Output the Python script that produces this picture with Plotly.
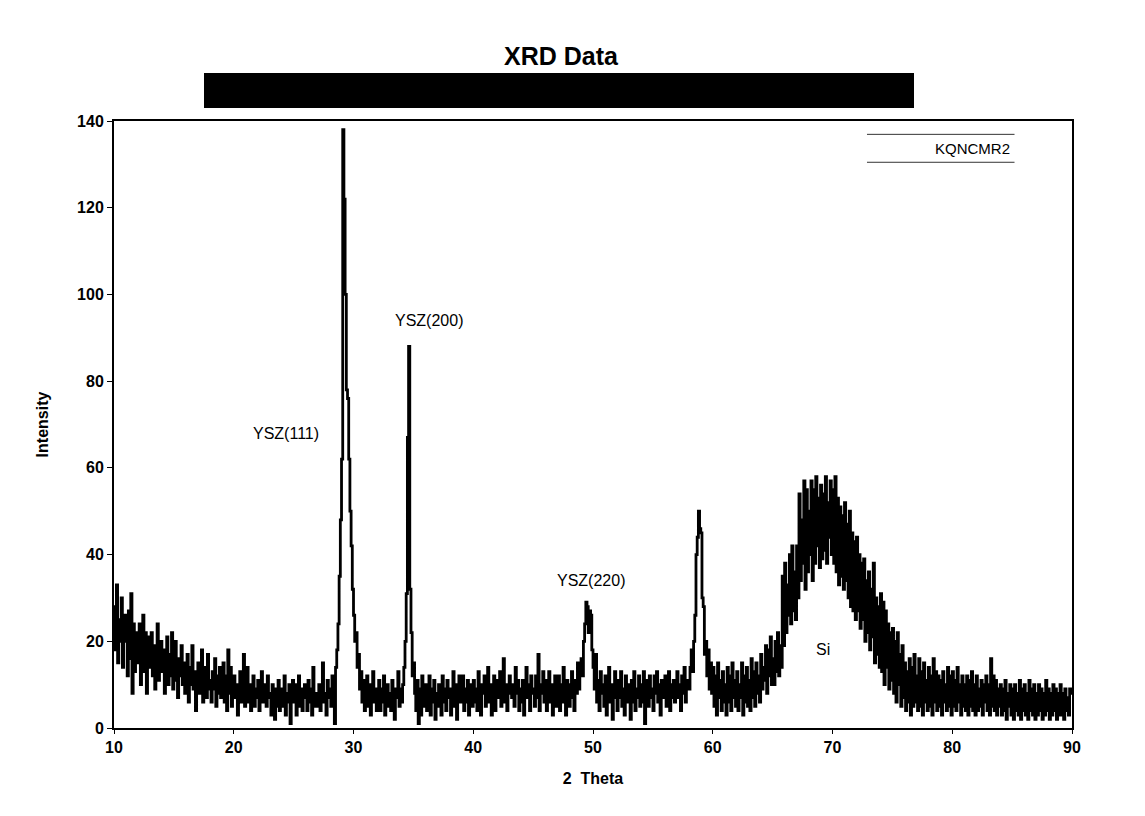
import numpy as np
import plotly.graph_objects as go

# 2-theta start / step of the scan (values every 0.1 deg)
theta_start = 10.0
theta_step = 0.1

intensity_rows = [
    [28, 18, 33, 15, 25, 20, 30, 14, 22, 26],   # 10
    [20, 12, 27, 16, 31, 8, 24, 13, 22, 19],    # 11
    [15, 24, 10, 20, 26, 13, 22, 8, 18, 21],    # 12
    [14, 22, 12, 19, 9, 17, 24, 11, 16, 20],    # 13
    [13, 18, 8, 15, 21, 10, 17, 12, 22, 9],     # 14
    [14, 20, 11, 7, 16, 12, 19, 10, 15, 8],     # 15
    [12, 17, 6, 14, 10, 19, 9, 13, 4, 11],      # 16
    [15, 8, 12, 18, 6, 10, 14, 7, 17, 9],       # 17
    [11, 6, 13, 9, 16, 5, 12, 8, 14, 7],        # 18
    [10, 15, 6, 12, 4, 18, 8, 14, 5, 9],        # 19
    [12, 7, 10, 3, 9, 13, 6, 11, 17, 5],        # 20
    [9, 14, 6, 10, 4, 8, 12, 5, 9, 7],          # 21
    [11, 4, 8, 13, 6, 10, 9, 5, 12, 7],         # 22
    [8, 3, 10, 6, 2, 9, 5, 11, 4, 7],           # 23
    [9, 5, 12, 3, 8, 6, 10, 1, 7, 11],          # 24
    [6, 10, 3, 8, 12, 5, 9, 4, 7, 10],          # 25
    [8, 4, 11, 6, 9, 3, 14, 5, 8, 7],           # 26
    [5, 10, 4, 9, 15, 6, 8, 3, 11, 7],          # 27
    [9, 5, 12, 6, 1, 14, 18, 24, 35, 48],       # 28
    [62, 138, 122, 100, 78, 76, 62, 50, 42, 32],  # 29
    [26, 20, 22, 14, 17, 9, 13, 6, 11, 4],      # 30
    [9, 12, 5, 10, 3, 8, 13, 6, 9, 4],          # 31
    [7, 11, 4, 9, 6, 12, 3, 8, 10, 5],          # 32
    [8, 4, 11, 6, 2, 9, 7, 13, 5, 9],           # 33
    [6, 10, 14, 20, 31, 67, 88, 32, 22, 12],    # 34
    [15, 8, 4, 11, 1, 9, 3, 12, 5, 8],          # 35
    [10, 4, 7, 12, 3, 9, 6, 11, 2, 8],          # 36
    [5, 10, 7, 3, 12, 6, 9, 4, 11, 7],          # 37
    [9, 3, 8, 13, 5, 10, 2, 7, 12, 6],          # 38
    [8, 12, 4, 9, 6, 11, 3, 10, 7, 5],          # 39
    [11, 6, 9, 4, 13, 7, 3, 10, 8, 12],         # 40
    [5, 9, 14, 6, 10, 3, 8, 12, 4, 9],          # 41
    [11, 7, 13, 5, 9, 16, 6, 10, 4, 8],         # 42
    [12, 9, 7, 10, 5, 14, 8, 11, 4, 9],         # 43
    [6, 11, 3, 9, 14, 7, 10, 4, 12, 8],         # 44
    [9, 5, 12, 7, 17, 4, 10, 8, 13, 6],         # 45
    [11, 4, 9, 13, 6, 10, 3, 8, 12, 5],         # 46
    [7, 12, 4, 10, 6, 14, 8, 3, 11, 9],         # 47
    [5, 10, 13, 7, 4, 11, 8, 15, 9, 12],        # 48
    [16, 12, 20, 24, 29, 28, 22, 27, 26, 18],   # 49
    [14, 9, 17, 6, 11, 4, 13, 8, 10, 5],        # 50
    [12, 3, 9, 14, 6, 10, 2, 8, 13, 7],         # 51
    [4, 11, 7, 13, 5, 9, 3, 12, 6, 10],         # 52
    [8, 2, 11, 6, 13, 4, 9, 7, 12, 5],          # 53
    [10, 6, 13, 1, 8, 11, 5, 12, 7, 9],         # 54
    [4, 12, 8, 13, 6, 10, 3, 11, 7, 9],         # 55
    [12, 5, 9, 13, 4, 10, 7, 11, 6, 8],         # 56
    [13, 7, 10, 4, 12, 8, 14, 6, 11, 9],        # 57
    [9, 14, 18, 13, 20, 26, 40, 44, 50, 46],    # 58
    [45, 30, 28, 17, 20, 12, 18, 9, 15, 8],     # 59
    [14, 5, 12, 3, 15, 7, 11, 4, 13, 6],        # 60
    [10, 3, 14, 6, 12, 4, 15, 7, 11, 5],        # 61
    [13, 4, 10, 7, 15, 3, 12, 6, 14, 5],        # 62
    [11, 4, 16, 7, 13, 5, 15, 8, 12, 6],        # 63
    [17, 9, 14, 11, 19, 8, 18, 12, 21, 10],     # 64
    [16, 10, 20, 13, 22, 12, 19, 14, 35, 19],   # 65
    [38, 22, 33, 26, 40, 24, 42, 27, 36, 25],   # 66
    [42, 30, 54, 34, 48, 38, 57, 32, 55, 36],   # 67
    [50, 40, 57, 34, 55, 38, 58, 42, 53, 37],   # 68
    [56, 39, 54, 41, 58, 38, 52, 44, 57, 40],   # 69
    [55, 38, 58, 36, 53, 33, 51, 35, 49, 32],   # 70
    [52, 34, 47, 30, 50, 28, 45, 27, 43, 25],   # 71
    [44, 27, 40, 23, 38, 25, 39, 20, 34, 22],   # 72
    [36, 18, 32, 21, 38, 15, 30, 17, 28, 14],   # 73
    [31, 13, 29, 10, 27, 14, 24, 9, 22, 11],    # 74
    [23, 8, 20, 6, 22, 10, 17, 5, 19, 7],       # 75
    [15, 4, 13, 6, 16, 3, 14, 5, 17, 6],        # 76
    [12, 4, 16, 5, 13, 3, 15, 6, 11, 4],        # 77
    [14, 5, 12, 3, 16, 6, 13, 4, 12, 5],        # 78
    [11, 3, 13, 6, 10, 4, 14, 5, 12, 3],        # 79
    [13, 5, 11, 4, 14, 6, 10, 3, 12, 5],        # 80
    [10, 4, 12, 3, 11, 5, 13, 4, 10, 3],        # 81
    [12, 4, 9, 5, 11, 3, 10, 6, 12, 4],         # 82
    [10, 3, 16, 5, 12, 4, 11, 3, 9, 5],         # 83
    [10, 3, 9, 4, 11, 2, 8, 5, 10, 3],          # 84
    [9, 2, 10, 4, 8, 3, 11, 2, 9, 4],           # 85
    [10, 3, 8, 2, 11, 4, 9, 3, 10, 2],          # 86
    [8, 3, 10, 4, 9, 2, 8, 3, 11, 4],           # 87
    [9, 2, 8, 3, 10, 4, 9, 2, 8, 3],            # 88
    [10, 3, 8, 2, 9, 4, 7, 3, 9, 8],            # 89
]
intensity_end = [8]  # 90.0

x_ticks = [10, 20, 30, 40, 50, 60, 70, 80, 90]
y_ticks = [0, 20, 40, 60, 80, 100, 120, 140]

peak_labels = ["YSZ(111)", "YSZ(200)", "YSZ(220)", "Si"]
peak_label_x = [24.4, 36.3, 49.8, 69.2]
peak_label_y = [68, 94, 34, 18]

series_name = "KQNCMR2"

intensity = [v for row in intensity_rows for v in row] + intensity_end
theta = theta_start + theta_step * np.arange(len(intensity))

FONT = "Liberation Sans, Arial, sans-serif"

fig = go.Figure()
fig.add_trace(go.Scatter(
    x=theta, y=intensity, mode="lines", name=series_name,
    line=dict(color="black", width=2.8, shape="hv"),
    showlegend=False,
))

for t, lx, ly in zip(peak_labels, peak_label_x, peak_label_y):
    fig.add_annotation(x=lx, y=ly, text=t, showarrow=False,
                       font=dict(family=FONT, size=16, color="black"))

# legend-like label with rules above and below
fig.add_annotation(xref="paper", yref="paper", x=0.937, y=0.955, text=series_name,
                   showarrow=False, xanchor="right", yanchor="middle",
                   font=dict(family=FONT, size=15, color="black"))
for yy in [0.978, 0.932]:
    fig.add_shape(type="line", xref="paper", yref="paper", x0=0.786, x1=0.940,
                  y0=yy, y1=yy, line=dict(color="#333333", width=1))

# black redaction bar under the title
fig.add_shape(type="rect", xref="paper", yref="paper",
              x0=(203 - 113) / 958, x1=(913 - 113) / 958,
              y0=(727 - 107) / 607, y1=(727 - 72) / 607,
              fillcolor="black", line=dict(width=0))

fig.update_layout(
    width=1145, height=816,
    margin=dict(l=106, r=81, t=113, b=96),
    paper_bgcolor="white", plot_bgcolor="white",
    title=dict(text="<b>XRD Data</b>", x=0.483, xanchor="center", y=0.941, yanchor="middle",
               font=dict(family=FONT, size=25, color="black")),
    font=dict(family=FONT, color="black"),
)
fig.update_xaxes(
    range=[10, 90], tickvals=x_ticks, ticktext=[f"<b>{v}</b>" for v in x_ticks],
    showgrid=False, zeroline=False, showline=True, linecolor="black", linewidth=2,
    mirror=True, ticks="outside", ticklen=4, tickcolor="black",
    tickfont=dict(family=FONT, size=16),
    title=dict(text="<b>2  Theta</b>", font=dict(family=FONT, size=16), standoff=18),
)
fig.update_yaxes(
    range=[0, 140], tickvals=y_ticks, ticktext=[f"<b>{v}</b>" for v in y_ticks],
    showgrid=False, zeroline=False, showline=True, linecolor="black", linewidth=2,
    mirror=True, ticks="outside", ticklen=5, tickcolor="black",
    tickfont=dict(family=FONT, size=16),
    title=dict(text="<b>Intensity</b>", font=dict(family=FONT, size=16), standoff=24),
)

fig.write_html("out.html")
